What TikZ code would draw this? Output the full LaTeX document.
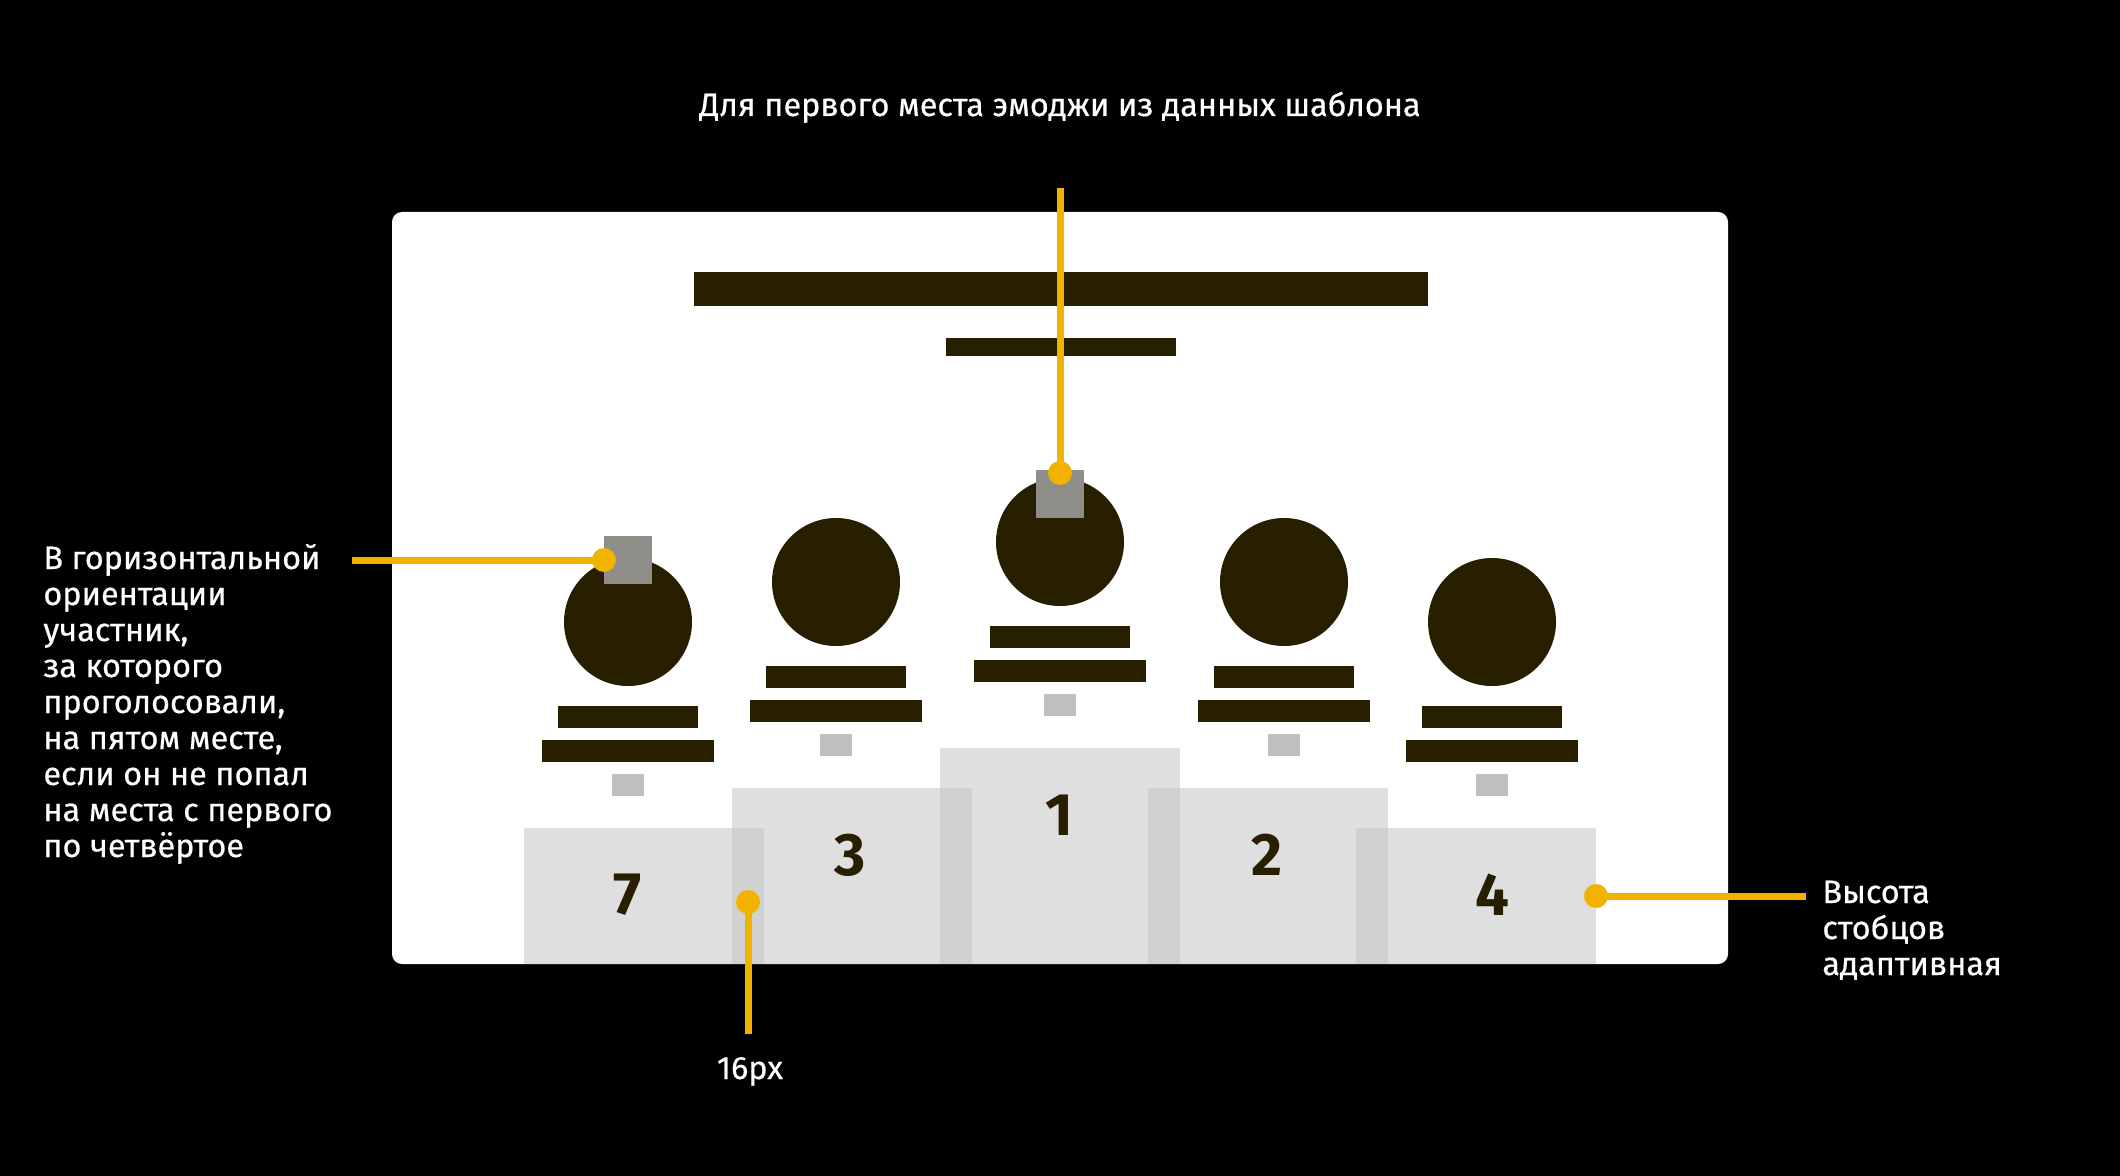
\documentclass[tikz,border=0pt]{standalone}
\usepackage{fontspec}
\setmainfont{Fira Sans}
\newfontfamily\notefont{Fira Sans}[FakeBold=0.5]
\usetikzlibrary{positioning}

\definecolor{ink}{RGB}{40,30,0}
\definecolor{amber}{RGB}{242,178,0}
\definecolor{podium}{RGB}{198,198,198}
\definecolor{stub}{RGB}{191,191,191}
\definecolor{emoji}{RGB}{143,142,137}

\tikzset{
	note/.style={text=white, font=\notefont\fontsize{16.2}{18}\selectfont, inner sep=0pt, align=left},
	lead/.style={draw=amber, line width=3.5pt},
	dot/.style={circle, fill=amber, inner sep=0pt, minimum size=12pt},
	column/.style={fill=podium, fill opacity=0.55},
	place/.style={text=ink, font=\bfseries\fontsize{30}{30}\selectfont, inner sep=0pt},
}

\begin{document}
\begin{tikzpicture}[x=0.5pt, y=-0.5pt]
	\fill[black] (0,0) rectangle (2120,1176);
	\useasboundingbox (0,0) rectangle (2120,1176);
	\fill[white, rounded corners=5pt] (392,212) rectangle (1728,964);
	
	% title bars
	\fill[ink] (694,272) rectangle (1428,306);
	\fill[ink] (946,338) rectangle (1176,356);
	
	% podium columns
	\foreach \x/\y in {524/828, 732/788, 940/748, 1148/788, 1356/828}
		\fill[column] (\x,\y) rectangle ++(240,964-\y);
	
	\node[place] (n7) at (628,895) {7};
	\node[place] (n3) at (850,855) {3};
	\node[place] (n1) at (1059,815) {1};
	\node[place] (n2) at (1267,855) {2};
	\node[place] (n4) at (1492,895) {4};
	
	% participants
	\foreach \x/\y in {628/622, 836/582, 1060/542, 1284/582, 1492/622}{
		\fill[ink] (\x,\y) circle[radius=64];
		\fill[ink] (\x-70,\y+84) rectangle (\x+70,\y+106);
		\fill[ink] (\x-86,\y+118) rectangle (\x+86,\y+140);
		\fill[stub] (\x-16,\y+152) rectangle (\x+16,\y+174);
	}
	\fill[emoji] (604,536) rectangle (652,584);
	\fill[emoji] (1036,470) rectangle (1084,518);
	
	% notes
	\node[note, anchor=base] (top) at (1060,116) {Для первого места эмоджи из данных шаблона};
	\coordinate (topend) at (1060,188);
	\node[dot] (d1) at (1060,473) {};
	\draw[lead] (topend) -- (d1.center);
	
	\node[note, anchor=base west] (left) at (43,857) {В горизонтальной\\ориентации\\участник,\\за которого\\проголосовали,\\на пятом месте,\\если он не попал\\на места с первого\\по четвёртое};
	\coordinate (leftend) at (352,560);
	\node[dot] (d2) at (604,560) {};
	\draw[lead] (leftend) -- (d2.center);
	
	\node[note, anchor=base] (gap) at (750,1079) {16px};
	\coordinate (gapend) at (748,1034);
	\node[dot] (d3) at (748,902) {};
	\draw[lead] (d3.center) -- (gapend);
	
	\node[note, anchor=base west] (right) at (1822,975) {Высота\\стобцов\\адаптивная};
	\coordinate (rightend) at (1806,896);
	\node[dot] (d4) at (1596,896) {};
	\draw[lead] (d4.center) -- (rightend);
\end{tikzpicture}
\end{document}
